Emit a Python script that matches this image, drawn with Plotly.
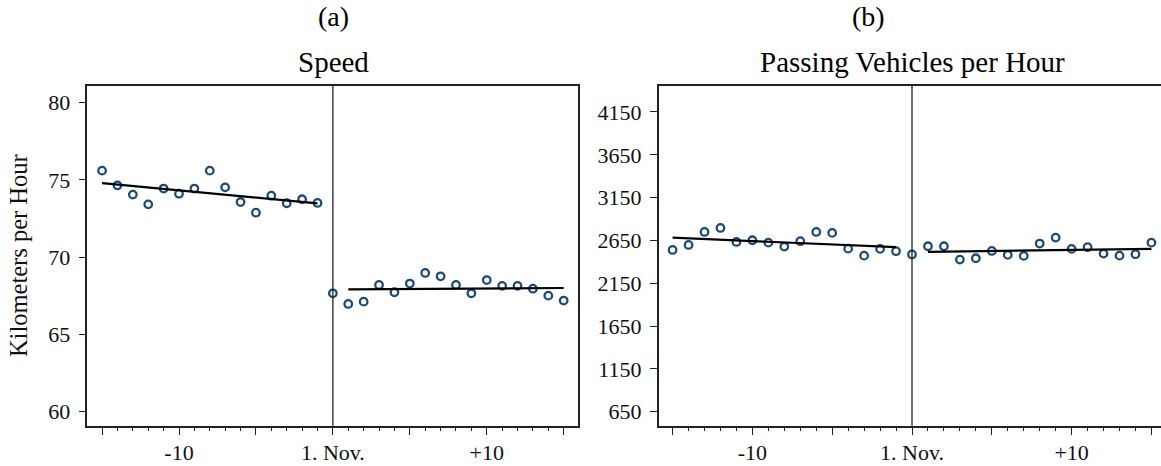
import numpy as np
import plotly.graph_objects as go

# ---------------- data ----------------
days = list(range(-15, 16))  # days relative to 1 November

speed = [75.60, 74.65, 74.05, 73.42, 74.44, 74.11, 74.44, 75.60, 74.52, 73.57,
         72.88, 73.98, 73.49, 73.75, 73.51,
         67.66,
         66.97, 67.12, 68.20, 67.73, 68.29, 68.98, 68.76, 68.20, 67.66, 68.52,
         68.14, 68.14, 67.96, 67.51, 67.19]

vehicles = [2539, 2597, 2749, 2796, 2632, 2652, 2624, 2578, 2641, 2749,
            2738, 2554, 2472, 2551, 2524,
            2486,
            2582, 2582, 2426, 2442, 2527, 2481, 2469, 2613, 2683, 2551,
            2571, 2496, 2472, 2489, 2624]

x_tickvals = [-15, -10, -5, 0, 5, 10, 15]
x_ticktext = ["", "-10", "", "1. Nov.", "", "+10", ""]
speed_ticks = [60, 65, 70, 75, 80]
veh_ticks = [650, 1150, 1650, 2150, 2650, 3150, 3650, 4150]

panel_letters = ["(a)", "(b)"]
panel_titles = ["Speed", "Passing Vehicles per Hour"]
y_title = "Kilometers per Hour"

# ---------------- style ----------------
W, H = 1161, 466
FONT = "Liberation Serif"
MARK = "#1c4b78"

def px(x):
    return x / W

def py(y):
    return 1 - y / H

fig = go.Figure()

def add_panel(vals, xa, ya):
    d = np.array(days)
    v = np.array(vals, dtype=float)
    fig.add_trace(go.Scatter(
        x=days, y=vals, mode="markers", xaxis=xa, yaxis=ya,
        marker=dict(symbol="circle-open", size=7.5, color=MARK,
                    line=dict(width=2.3, color=MARK)),
        showlegend=False, hoverinfo="x+y"))
    for mask in (d < 0, d > 0):
        coef = np.polyfit(d[mask], v[mask], 1)
        xs = d[mask]
        fig.add_trace(go.Scatter(
            x=[xs.min(), xs.max()], y=list(np.polyval(coef, [xs.min(), xs.max()])),
            mode="lines", xaxis=xa, yaxis=ya,
            line=dict(color="black", width=2.2),
            showlegend=False, hoverinfo="skip"))

add_panel(speed, "x", "y")
add_panel(vehicles, "x2", "y2")

ydom = [py(425.7), py(85.7)]

xcommon = dict(
    tickmode="array", tickvals=x_tickvals, ticktext=x_ticktext,
    ticks="outside", ticklen=8, tickwidth=1.2, tickcolor="#222",
    showline=True, linecolor="#222", linewidth=1.5,
    showgrid=False, zeroline=False, ticklabelstandoff=-2,
    tickfont=dict(family=FONT, size=22, color="#111"),
    minor=dict(dtick=1, tick0=0, ticks="outside", ticklen=4,
               tickwidth=1.1, tickcolor="#222", showgrid=False),
)
ycommon = dict(
    tickmode="array",
    ticks="outside", ticklen=7, tickwidth=1.2, tickcolor="#222",
    showline=True, linecolor="#222", linewidth=1.5,
    showgrid=False, zeroline=False, ticklabelstandoff=4,
    tickfont=dict(family=FONT, size=22, color="#111"),
)

fig.update_layout(
    width=W, height=H,
    margin=dict(l=0, r=0, t=0, b=0),
    paper_bgcolor="white", plot_bgcolor="white",
    xaxis=dict(domain=[px(87.3), px(578.3)], range=[-15.96, 15.95],
               anchor="y", mirror=True, **xcommon),
    yaxis=dict(domain=ydom, range=[59.09, 81.1], anchor="x",
               tickvals=speed_ticks, ticktext=[str(t) for t in speed_ticks],
               mirror=True,
               title=dict(text=y_title, font=dict(family=FONT, size=24.5, color="#111"),
                          standoff=14),
               **ycommon),
    xaxis2=dict(domain=[px(658.7), 1.0], range=[-15.87, 15.60],
                anchor="y2", mirror=True, **xcommon),
    yaxis2=dict(domain=ydom, range=[486, 4457], anchor="x2",
                tickvals=veh_ticks, ticktext=[str(t) for t in veh_ticks],
                mirror=False, **ycommon),
)

# vertical reference lines at 1 November
for xr, yr in (("x", "y"), ("x2", "y2")):
    fig.add_shape(type="line", xref=xr, yref=f"{yr} domain", x0=0, x1=0, y0=0, y1=1,
                  line=dict(color="#222", width=1.3))

# titles
for letter, title, cx_l, cx_t in ((panel_letters[0], panel_titles[0], 333, 333),
                                   (panel_letters[1], panel_titles[1], 868, 912)):
    fig.add_annotation(text=letter, x=px(cx_l), y=py(17), xref="paper", yref="paper",
                       showarrow=False, xanchor="center", yanchor="middle",
                       font=dict(family=FONT, size=28, color="black"))
    fig.add_annotation(text=title, x=px(cx_t), y=py(62), xref="paper", yref="paper",
                       showarrow=False, xanchor="center", yanchor="middle",
                       font=dict(family=FONT, size=29, color="black"))

fig.write_html("out.html")
